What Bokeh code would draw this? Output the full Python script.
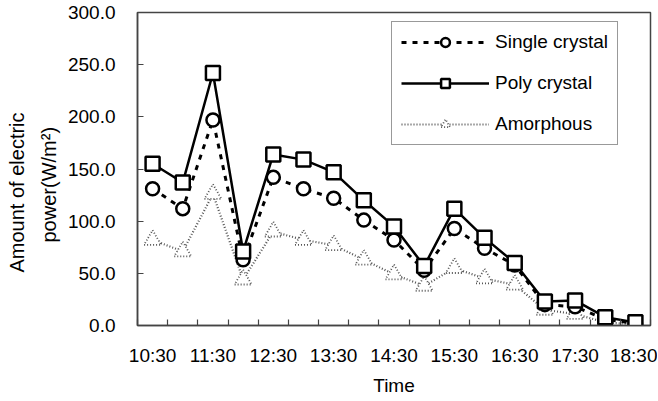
from bokeh.plotting import figure
from bokeh.models import (FixedTicker, Legend, LegendItem, ColumnDataSource, Range1d,
                          PrintfTickFormatter, Title)
from bokeh.core.properties import value
from bokeh.embed import file_html
from bokeh.resources import INLINE

times = ["10:30", "11:00", "11:30", "12:00", "12:30", "13:00", "13:30", "14:00", "14:30",
         "15:00", "15:30", "16:00", "16:30", "17:00", "17:30", "18:00", "18:30"]
single_crystal = [131, 112, 197, 63, 142, 131, 122, 101, 82, 53, 93, 74, 58, 20, 18, 6, 2]
poly_crystal = [155, 137, 242, 71, 164, 159, 147, 120, 95, 57, 112, 84, 60, 23, 24, 8, 3]
amorphous = [82, 71, 126, 44, 90, 82, 77, 63, 49, 38, 55, 45, 39, 15, 11, 3, 1]
y_ticks = [0, 50, 100, 150, 200, 250, 300]
y_title_lines = ["Amount of  electric", "power(W/m\u00b2)"]

FONT = "Liberation Sans"
FS = "19px"

idx = list(range(len(times)))
src = ColumnDataSource(dict(x=idx, t=times, s=single_crystal, p=poly_crystal, a=amorphous))

p = figure(output_backend="svg", toolbar_location=None,
           x_range=Range1d(-0.5, len(times) - 0.5), y_range=Range1d(0, 300),
           min_border_left=130, min_border_top=12, min_border_right=7, min_border_bottom=60,
           frame_width=513, frame_height=313)
p.grid.visible = False
p.outline_line_color = "#444444"
p.outline_line_width = 1.5
p.background_fill_color = "white"
p.border_fill_color = "white"

# x axis
xa = p.xaxis[0]
xa.ticker = FixedTicker(ticks=idx[::2], minor_ticks=[i - 0.5 for i in range(len(times) + 1)])
xa.major_label_overrides = {i: times[i] for i in idx[::2]}
xa.major_tick_line_color = None
xa.minor_tick_in = 6
xa.minor_tick_out = 0
xa.minor_tick_line_color = "#444444"
xa.minor_tick_line_width = 1.2
xa.axis_label = "Time"
xa.major_label_standoff = 13
xa.axis_label_standoff = 6

# y axis
ya = p.yaxis[0]
ya.ticker = FixedTicker(ticks=y_ticks, minor_ticks=[])
ya.formatter = PrintfTickFormatter(format="%.1f")
ya.major_tick_in = 6
ya.major_tick_out = 0
ya.major_tick_line_color = "#444444"
ya.major_tick_line_width = 1.2
ya.major_label_standoff = 22

for ax in (xa, ya):
    ax.axis_line_color = "#444444"
    ax.axis_line_width = 1.5
    ax.major_label_text_font = FONT
    ax.major_label_text_font_size = FS
    ax.major_label_text_color = "black"
    ax.axis_label_text_font = FONT
    ax.axis_label_text_font_size = FS
    ax.axis_label_text_font_style = "normal"
    ax.axis_label_text_color = "black"

# y axis title: two vertical lines (inner line added first), anchored from the bottom
for txt, off, so in ((y_title_lines[1], 83, 9), (y_title_lines[0], 53, 7)):
    p.add_layout(Title(text=txt, align="left", offset=off, standoff=so,
                       text_font=FONT, text_font_size="20px", text_font_style="normal",
                       text_color="black"), "left")

# Amorphous
a_line = p.line("x", "a", source=src, line_color="#555555", line_width=2.2, line_dash="1 2")
a_mark = p.scatter("x", "a", source=src, marker="triangle", size=17, fill_color="white",
                   line_color="#555555", line_width=1.8, line_dash=value("1 2"))
# Single crystal
s_line = p.line("x", "s", source=src, line_color="black", line_width=3, line_dash="5 6")
s_mark = p.scatter("x", "s", source=src, marker="circle", size=13, fill_color="white",
                   line_color="black", line_width=2.5)
# Poly crystal
p_line = p.line("x", "p", source=src, line_color="black", line_width=2.5)
p_mark = p.scatter("x", "p", source=src, marker="square", size=14, fill_color="white",
                   line_color="black", line_width=2.5)

legend = Legend(items=[
    LegendItem(label="Single crystal", renderers=[s_line, s_mark]),
    LegendItem(label="Poly crystal", renderers=[p_line, p_mark]),
    LegendItem(label="Amorphous", renderers=[a_line, a_mark]),
], location=(254, 180))
legend.label_text_font = FONT
legend.label_text_font_size = FS
legend.label_text_color = "black"
legend.glyph_width = 88
legend.glyph_height = 22
legend.label_height = 22
legend.spacing = 19
legend.padding = 9
legend.margin = 0
legend.label_standoff = 6
legend.border_line_color = "#333333"
legend.border_line_width = 1.2
legend.background_fill_color = "white"
legend.background_fill_alpha = 1
p.add_layout(legend)

open("out.html", "w").write(file_html(p, INLINE))
